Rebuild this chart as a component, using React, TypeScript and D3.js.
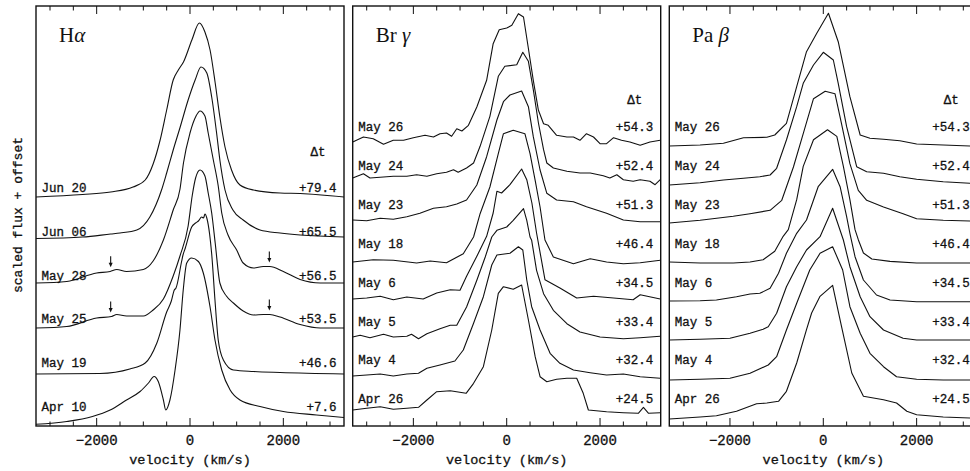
import { useEffect, useRef } from "react"
import * as d3 from "d3"

type Pt = [number, number]

// ---- H alpha: [velocity (km/s), flux above continuum] ----
const haJun20: Pt[] = [[-3300,0],[-2300,0.25],[-1700,0.5],[-1220,1.0],[-960,1.7],[-790,3.3],[-640,5.7],[-500,8.7],[-360,11.7],[-250,12.7],[-140,13.5],[40,15.7],[200,17.4],[320,16.5],[430,14.7],[540,11.4],[640,8.0],[750,5.0],[890,2.7],[1070,1.2],[1360,0.7],[1930,0.4],[2360,0.35],[3300,0]]
const haJun06: Pt[] = [[-3300,0.05],[-2300,0.2],[-1700,0.5],[-1500,0.6],[-1140,0.9],[-860,2.2],[-610,4.9],[-500,6.6],[-360,8.9],[-210,11.2],[-40,13.9],[110,15.9],[235,17.2],[360,16.6],[465,14.2],[570,10.6],[640,7.9],[750,4.9],[920,2.9],[1140,1.9],[1500,0.9],[1930,0.6],[2360,0.4],[3300,0.2]]
const haMay28: Pt[] = [[-3300,0],[-2640,0.15],[-2000,1.0],[-1710,1.15],[-1570,1.35],[-1360,1.15],[-1000,1.35],[-790,2.2],[-570,4.3],[-360,7.3],[-214,9.4],[-140,12.0],[0,15.0],[130,16.7],[215,17.2],[320,16.7],[390,15.0],[500,12.3],[605,9.7],[680,7.0],[815,4.8],[1000,3.3],[1140,2.0],[1360,1.5],[1570,1.65],[1710,1.65],[2000,1.15],[2360,0.35],[2790,0],[3300,0]]
const haMay25: Pt[] = [[-3300,0],[-2640,0.15],[-2000,1.0],[-1680,1.15],[-1570,1.35],[-1360,1.2],[-1000,1.2],[-790,1.8],[-570,2.9],[-360,5.2],[-215,7.2],[-40,10.2],[50,13.3],[120,15.0],[215,15.8],[320,15.2],[390,13.5],[465,11.5],[540,8.5],[640,4.5],[780,3.2],[930,2.5],[1140,1.7],[1360,1.3],[1570,1.35],[1710,1.35],[1930,1.1],[2360,0.35],[2790,0],[3300,0]]
const haMay19: Pt[] = [[-3300,0],[-1930,0.05],[-1290,0.5],[-960,1.1],[-710,3.1],[-500,6.2],[-400,7.3],[-336,8.4],[-300,8.6],[-178,11.3],[-150,11.9],[-100,12.6],[36,14.7],[120,15.1],[180,15.3],[250,15.7],[290,15.6],[321,16.0],[360,15.6],[420,14.0],[465,12.0],[535,7.4],[605,3.4],[715,1.4],[930,0.4],[1360,0.25],[1930,0.15],[3300,0]]
const haApr10: Pt[] = [[-3300,0.17],[-2640,0.45],[-2090,0.95],[-1710,1.6],[-1360,2.6],[-1070,3.45],[-890,4.3],[-770,4.95],[-680,4.45],[-570,2.6],[-520,1.6],[-430,2.6],[-320,5.6],[-215,9.6],[-145,13.6],[-70,16.3],[35,16.8],[180,16.45],[285,15.3],[430,11.9],[535,8.6],[680,5.6],[860,3.6],[1070,2.6],[1500,1.95],[2000,1.45],[2710,1.1],[3300,0.85]]

const haDates = ["Jun 20", "Jun 06", "May 28", "May 25", "May 19", "Apr 10"]
const haDeltaT = ["+79.4", "+65.5", "+56.5", "+53.5", "+46.6", "+7.6"]
const haOffsets = [22.9, 18.7, 14.3, 9.8, 5.2, 0]
const haProfiles = [haJun20, haJun06, haMay28, haMay25, haMay19, haApr10]
const haArrowVelocities = [-1700, 1700]
const haArrowDates = ["May 28", "May 25"]

// ---- Br gamma ----
const brgMay26: Pt[] = [[-3300,0],[-3070,0.5],[-2860,0.33],[-2640,-0.23],[-2430,0.17],[-2210,0.17],[-2000,0.43],[-1750,0.67],[-1570,0.5],[-1430,0.83],[-1290,0.9],[-1180,0.57],[-1070,1.33],[-960,1.1],[-820,1.67],[-640,3.5],[-430,6.17],[-290,9.83],[-160,11.23],[0,11.4],[110,11.67],[250,12.83],[360,12.5],[460,9.5],[570,6.17],[680,3.17],[790,1.83],[890,1.67],[1070,0.67],[1290,0.5],[1430,0.5],[1570,0.17],[1710,0.83],[1860,0.5],[2000,-0.17],[2140,-0.17],[2290,0.43],[2460,0.17],[2640,0],[2860,-0.33],[3070,0],[3290,0.17]]
const brgMay24: Pt[] = [[-3300,0],[-3070,0.43],[-2930,0],[-2640,0.1],[-2430,0.17],[-2140,0.17],[-1930,0.33],[-1710,0.17],[-1500,0.43],[-1290,0.57],[-1140,0.83],[-1040,0.57],[-860,1.0],[-710,1.5],[-570,3.17],[-360,6.17],[-180,10.17],[-40,11.17],[215,11.33],[345,12.57],[465,11.67],[570,8.83],[680,5.5],[790,2.83],[860,1.5],[1000,1.0],[1290,0.67],[1570,0.5],[1790,0.5],[2070,0.23],[2210,0],[2360,0.33],[2500,-0.17],[2710,-0.33],[2860,-0.17],[3070,-0.33],[3180,-0.67],[3290,-0.17]]
const brgMay23: Pt[] = [[-3300,0],[-3000,-0.07],[-2710,0.17],[-2430,0.07],[-2140,0.33],[-1860,0.67],[-1570,1.17],[-1290,1.33],[-1070,1.6],[-860,2.0],[-640,3.5],[-430,6.33],[-210,10.0],[-70,11.83],[70,12.5],[320,12.9],[465,11.33],[570,8.33],[715,5.0],[860,2.67],[1070,2.0],[1430,1.83],[1710,1.33],[2140,0.67],[2500,0],[2860,-0.17],[3290,-0.17]]
const brgMay18: Pt[] = [[-3300,0],[-2860,0.23],[-2430,0.17],[-1930,-0.1],[-1640,0.1],[-1290,-0.07],[-930,0.83],[-710,2.5],[-570,4.83],[-360,7.5],[-180,10.83],[-70,12.83],[140,13.17],[390,12.83],[500,10.83],[610,8.17],[715,5.5],[820,2.2],[1000,0.5],[1430,-0.17],[1790,0.33],[2140,0],[2500,-0.17],[2860,-0.07],[3290,0.17]]
const brgMay6: Pt[] = [[-3300,0],[-3000,0.1],[-2710,0.27],[-2430,-0.07],[-2140,0.2],[-1790,0],[-1500,0.6],[-1210,0.93],[-1000,0.87],[-860,2.27],[-640,4.27],[-430,6.27],[-290,8.6],[-210,10.77],[-110,10.6],[70,11.43],[320,13.0],[430,11.93],[540,9.6],[640,6.6],[820,1.93],[1140,1.1],[1500,0.1],[1860,0.27],[2290,0.1],[2710,-0.07],[2860,0.43],[3290,0]]
const brgMay5: Pt[] = [[-3300,0],[-3140,0.17],[-2930,-0.07],[-2640,0.27],[-2430,0],[-2140,0.07],[-2040,0.27],[-1890,-0.17],[-1710,0.33],[-1430,0.83],[-1210,1.17],[-1070,1.17],[-860,3.0],[-640,5.67],[-460,8.0],[-320,10.0],[-210,10.67],[0,11.0],[140,11.67],[360,12.84],[430,11.67],[500,10.0],[535,9.67],[640,6.67],[790,4.33],[1000,2.67],[1290,1.33],[1570,0.5],[2000,0],[2500,-0.17],[2860,-0.07],[3290,0.07]]
const brgMay4: Pt[] = [[-3300,0],[-3000,0.1],[-2710,0.2],[-2430,0],[-2140,0.2],[-1890,0.27],[-1710,0.77],[-1430,1.1],[-1110,1.5],[-930,2.6],[-710,5.27],[-500,7.93],[-320,11.1],[-210,12.1],[70,12.27],[250,12.93],[345,12.6],[430,9.6],[535,6.93],[715,4.6],[930,2.27],[1140,1.27],[1430,0.6],[1790,0.33],[2140,0.1],[2500,0.2],[2860,-0.07],[3290,-0.23]]
const brgApr26: Pt[] = [[-3300,0],[-3000,0.17],[-2710,0.33],[-2430,0.07],[-2140,0.17],[-1890,0.27],[-1710,1.0],[-1500,1.83],[-1210,1.93],[-870,1.67],[-710,2.67],[-500,4.33],[-320,8.0],[-180,11.67],[-70,12.33],[140,12.07],[320,12.5],[465,9.0],[610,5.33],[715,3.33],[860,2.83],[1070,3.07],[1290,3.17],[1500,3.17],[1640,1.67],[1750,0],[2140,-0.17],[2500,-0.27],[2820,-0.33],[2930,0.27],[3040,-0.33],[3290,-0.27]]

// ---- Pa beta ----
const pabMay26: Pt[] = [[-3300,0],[-2640,0.1],[-2140,0.27],[-1710,0.83],[-1210,0.87],[-1040,1.1],[-790,2.27],[-570,5.93],[-360,9.43],[-140,11.27],[110,13.27],[320,10.43],[570,4.93],[790,1.1],[1000,0.77],[1290,0.67],[1640,0.53],[2000,0.2],[2570,0.1],[3140,0],[3300,0]]
const pabMay24: Pt[] = [[-3300,0],[-2640,0.23],[-2140,0.5],[-1710,0.67],[-1360,0.83],[-1140,1.0],[-1000,1.67],[-790,4.5],[-570,7.83],[-430,10.17],[-210,12.0],[0,13.27],[215,12.5],[320,10.17],[500,5.83],[715,1.83],[930,1.33],[1290,1.17],[1640,0.83],[2000,0.57],[2570,0.33],[3140,0.17],[3300,0.15]]
const pabMay23: Pt[] = [[-3300,0],[-2640,0.27],[-1930,0.67],[-1570,0.93],[-1140,1.27],[-890,2.27],[-640,5.6],[-430,8.93],[-210,12.43],[40,13.17],[250,12.93],[390,9.93],[570,5.93],[750,3.27],[930,2.27],[1290,1.6],[1710,0.93],[2000,0.43],[2570,0.27],[3140,0.2],[3300,0.2]]
const pabMay18: Pt[] = [[-3300,0],[-2640,-0.1],[-1930,-0.1],[-1570,0],[-1290,0.23],[-1040,1.07],[-860,2.57],[-750,3.23],[-570,6.23],[-430,9.56],[-210,12.23],[90,13.23],[290,12.56],[430,9.56],[570,6.23],[680,3.23],[750,2.23],[860,0.9],[1040,0.3],[1430,0.06],[2000,-0.1],[2710,-0.1],[3300,-0.1]]
const pabMay6: Pt[] = [[-3300,0],[-2640,0.03],[-2290,0.1],[-1860,0.43],[-1570,0.7],[-1360,0.77],[-1140,1.27],[-960,2.77],[-790,4.77],[-570,6.77],[-360,8.1],[-110,11.43],[200,13.17],[360,11.43],[500,8.43],[570,6.77],[680,4.43],[860,2.1],[1140,0.6],[1430,0.1],[2000,-0.07],[3300,-0.07]]
const pabMay5: Pt[] = [[-3300,0],[-2640,0.07],[-2000,0.17],[-1570,0.67],[-1290,1.07],[-1180,1.33],[-1000,2.67],[-790,5.33],[-570,7.33],[-360,9.0],[-70,10.33],[200,13.17],[430,10.0],[570,7.33],[790,4.33],[1000,2.33],[1290,1.0],[1710,0.17],[2000,0],[3300,0]]
const pabMay4: Pt[] = [[-3300,0],[-2640,0.07],[-2000,0.17],[-1570,0.67],[-1180,1.5],[-1000,2.33],[-790,5.0],[-570,7.67],[-290,11.0],[-70,12.67],[200,13.33],[415,11.0],[570,7.33],[790,4.67],[1000,2.67],[1290,1.33],[1570,0.33],[2000,0.07],[2570,0],[3300,0]]
const pabApr26: Pt[] = [[-3300,0],[-2640,0.2],[-2290,0.33],[-1860,0.77],[-1430,1.53],[-1210,1.6],[-960,1.77],[-790,2.77],[-570,5.6],[-360,8.93],[-250,10.6],[-70,12.27],[200,13.37],[390,9.27],[610,4.6],[860,2.27],[1290,1.93],[1570,1.6],[1790,0.77],[2000,0.43],[2570,0.2],[3140,0.1],[3300,0.1]]

const irDates = ["May 26", "May 24", "May 23", "May 18", "May 6", "May 5", "May 4", "Apr 26"]
const irDeltaT = ["+54.3", "+52.4", "+51.3", "+46.4", "+34.5", "+33.4", "+32.4", "+24.5"]
const brgOffsets = [28.4, 24.8, 20.6, 16.4, 12.7, 8.9, 5.0, 1.6]
const pabOffsets = [28.0, 24.1, 20.3, 16.4, 12.5, 8.6, 4.6, 0.7]
const brgProfiles = [brgMay26, brgMay24, brgMay23, brgMay18, brgMay6, brgMay5, brgMay4, brgApr26]
const pabProfiles = [pabMay26, pabMay24, pabMay23, pabMay18, pabMay6, pabMay5, pabMay4, pabApr26]

const velocityDomain: [number, number] = [-3300, 3300]
const fluxDomain: [number, number] = [0, 42]
const majorTicks = [-2000, 0, 2000]
const minorTicks = [-3000, -2500, -1500, -1000, -500, 500, 1000, 1500, 2500, 3000]

// layout
const W = 970
const H = 471
const PANEL_LEFTS = [36, 352.7, 669.3]
const PANEL_W = 308
const PANEL_TOP = 6
const PANEL_BOTTOM = 426
const MONO = "'Liberation Mono', 'Courier New', monospace"
const SERIF = "'Liberation Serif', 'Times New Roman', serif"
const INK = "#111"

interface PanelSpec {
  line: string
  greek: string
  dates: string[]
  deltaT: string[]
  offsets: number[]
  profiles: Pt[][]
  smooth: boolean
  labelTop: number
  labelStep: number
  dtY: number
}

const panels: PanelSpec[] = [
  { line: "H", greek: "α", dates: haDates, deltaT: haDeltaT, offsets: haOffsets, profiles: haProfiles, smooth: true, labelTop: 188, labelStep: 43.7, dtY: 152 },
  { line: "Br ", greek: "γ", dates: irDates, deltaT: irDeltaT, offsets: brgOffsets, profiles: brgProfiles, smooth: false, labelTop: 126.7, labelStep: 38.9, dtY: 100 },
  { line: "Pa ", greek: "β", dates: irDates, deltaT: irDeltaT, offsets: pabOffsets, profiles: pabProfiles, smooth: false, labelTop: 126.7, labelStep: 38.9, dtY: 100 },
]

const App = () => {
  const svgRef = useRef<SVGSVGElement | null>(null)

  useEffect(() => {
    if (!svgRef.current) return
    const svg = d3.select(svgRef.current)
    svg.selectAll("*").remove()

    const y = d3.scaleLinear().domain(fluxDomain).range([PANEL_BOTTOM, PANEL_TOP])

    // mono text helper; a thin stroke gives the heavier typewriter look of the original
    const monoText = (sel: d3.Selection<any, unknown, null, undefined>, size: number) =>
      sel
        .append("text")
        .attr("font-family", MONO)
        .attr("font-size", size)
        .attr("fill", INK)
        .attr("stroke", INK)
        .attr("stroke-width", 0.3)
        .attr("dy", "0.35em")

    // y axis label
    monoText(svg as any, 13)
      .attr("transform", `translate(17, 215) rotate(-90)`)
      .attr("text-anchor", "middle")
      .text("scaled flux + offset")

    panels.forEach((p, pi) => {
      const left = PANEL_LEFTS[pi]
      const right = left + PANEL_W
      const x = d3.scaleLinear().domain(velocityDomain).range([left, right])
      const g = svg.append("g")

      const clipId = `clip-${pi}`
      svg
        .append("clipPath")
        .attr("id", clipId)
        .append("rect")
        .attr("x", left)
        .attr("y", PANEL_TOP)
        .attr("width", PANEL_W)
        .attr("height", PANEL_BOTTOM - PANEL_TOP)

      const line = d3
        .line<Pt>()
        .x((d) => x(d[0]))
        .curve(p.smooth ? d3.curveMonotoneX : d3.curveLinear)

      // spectra
      p.profiles.forEach((prof, i) => {
        g.append("path")
          .datum(prof)
          .attr("clip-path", `url(#${clipId})`)
          .attr("fill", "none")
          .attr("stroke", INK)
          .attr("stroke-width", 1.1)
          .attr("stroke-linejoin", "round")
          .attr("d", line.y((d) => y(d[1] + p.offsets[i])))
      })

      // arrows marking the bumps (H alpha only)
      if (pi === 0) {
        haArrowDates.forEach((date) => {
          const i = haDates.indexOf(date)
          const prof = haProfiles[i]
          haArrowVelocities.forEach((v) => {
            const k = d3.bisector((d: Pt) => d[0]).left(prof, v)
            const a = prof[k - 1]
            const b = prof[k]
            const f = a[1] + ((b[1] - a[1]) * (v - a[0])) / (b[0] - a[0])
            const tipY = y(f + p.offsets[i]) - 4
            const ax = x(v)
            g.append("line")
              .attr("x1", ax)
              .attr("x2", ax)
              .attr("y1", tipY - 11)
              .attr("y2", tipY - 3)
              .attr("stroke", INK)
              .attr("stroke-width", 1.1)
            g.append("path")
              .attr("d", `M${ax - 2},${tipY - 4.5} L${ax + 2},${tipY - 4.5} L${ax},${tipY} Z`)
              .attr("fill", INK)
          })
        })
      }

      // frame
      g.append("rect")
        .attr("x", left)
        .attr("y", PANEL_TOP)
        .attr("width", PANEL_W)
        .attr("height", PANEL_BOTTOM - PANEL_TOP)
        .attr("fill", "none")
        .attr("stroke", INK)
        .attr("stroke-width", 1.4)

      // ticks top & bottom, inward
      const tickData = [
        ...majorTicks.map((t) => ({ t, len: 8 })),
        ...minorTicks.map((t) => ({ t, len: 4.5 })),
      ]
      tickData.forEach(({ t, len }) => {
        g.append("line")
          .attr("x1", x(t)).attr("x2", x(t))
          .attr("y1", PANEL_BOTTOM).attr("y2", PANEL_BOTTOM - len)
          .attr("stroke", INK).attr("stroke-width", 1)
        g.append("line")
          .attr("x1", x(t)).attr("x2", x(t))
          .attr("y1", PANEL_TOP).attr("y2", PANEL_TOP + len)
          .attr("stroke", INK).attr("stroke-width", 1)
      })

      // tick labels
      majorTicks.forEach((t) => {
        monoText(g, 14)
          .attr("x", x(t))
          .attr("y", 440)
          .attr("text-anchor", "middle")
          .text(t < 0 ? `\u2212${Math.abs(t)}` : `${t}`)
      })

      // x axis label
      monoText(g, 13.5)
        .attr("x", (left + right) / 2)
        .attr("y", 459)
        .attr("text-anchor", "middle")
        .text("velocity (km/s)")

      // title
      const title = g
        .append("text")
        .attr("x", left + 23)
        .attr("y", 42)
        .attr("font-family", SERIF)
        .attr("font-size", 21)
        .attr("fill", INK)
      title.append("tspan").text(p.line)
      title.append("tspan").attr("font-style", "italic").text(p.greek)

      // delta t header
      monoText(g, 12.5)
        .attr("x", right - 26)
        .attr("y", p.dtY)
        .attr("text-anchor", "middle")
        .text("Δt")

      // date & delta-t labels
      p.dates.forEach((d, i) => {
        const ly = p.labelTop + i * p.labelStep
        monoText(g, 12.5)
          .attr("x", left + 5.5)
          .attr("y", ly)
          .text(d)
        monoText(g, 12.5)
          .attr("x", right - 7.5)
          .attr("y", ly)
          .attr("text-anchor", "end")
          .text(p.deltaT[i])
      })
    })
  }, [])

  return (
    <svg
      ref={svgRef}
      width={W}
      height={H}
      style={{ position: "absolute", left: 0, top: 0, background: "#fff", display: "block" }}
    />
  )
}

export default App
